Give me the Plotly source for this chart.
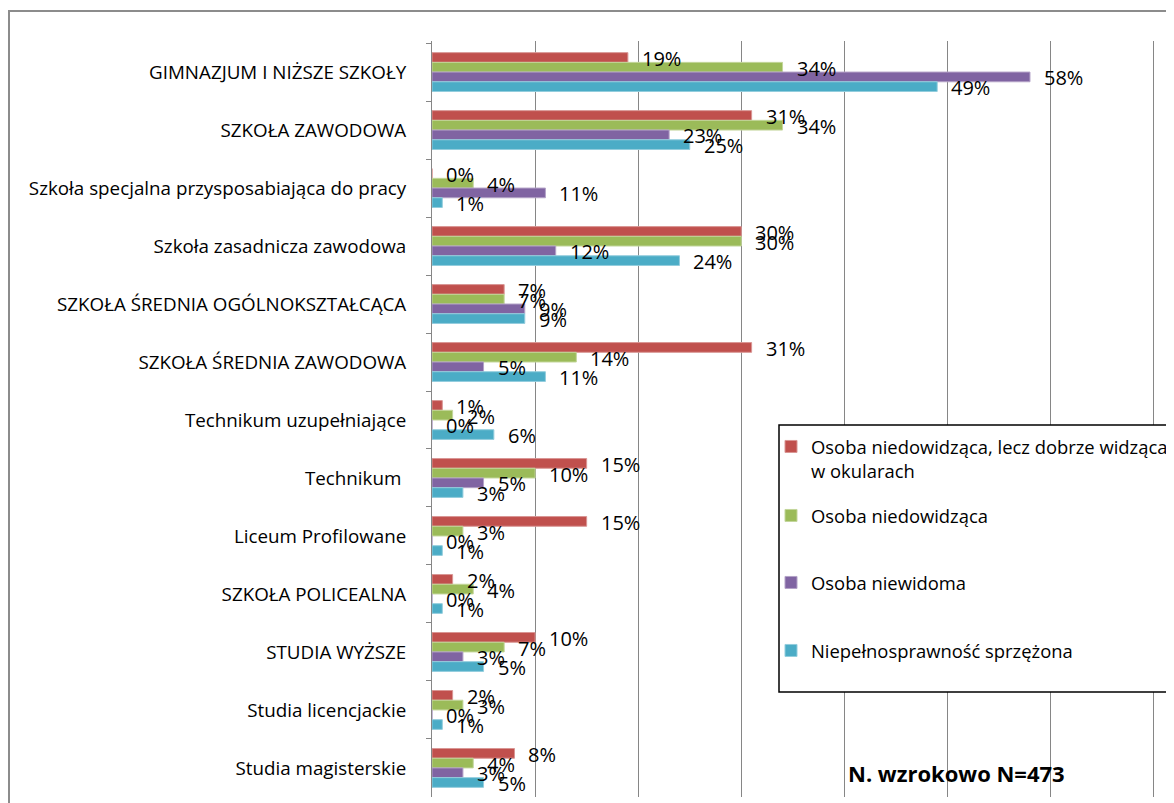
import plotly.graph_objects as go

categories = [
    "GIMNAZJUM I NIŻSZE SZKOŁY",
    "SZKOŁA ZAWODOWA",
    "Szkoła specjalna przysposabiająca do pracy",
    "Szkoła zasadnicza zawodowa",
    "SZKOŁA ŚREDNIA OGÓLNOKSZTAŁCĄCA",
    "SZKOŁA ŚREDNIA ZAWODOWA",
    "Technikum uzupełniające",
    "Technikum ",
    "Liceum Profilowane",
    "SZKOŁA POLICEALNA",
    "STUDIA WYŻSZE",
    "Studia licencjackie",
    "Studia magisterskie",
]

series_names = [
    "Osoba niedowidząca, lecz dobrze widząca<br>w okularach",
    "Osoba niedowidząca",
    "Osoba niewidoma",
    "Niepełnosprawność sprzężona",
]

s_niedowidzaca_okulary = [19, 31, 0, 30, 7, 31, 1, 15, 15, 2, 10, 2, 8]
s_niedowidzaca = [34, 34, 4, 30, 7, 14, 2, 10, 3, 4, 7, 3, 4]
s_niewidoma = [58, 23, 11, 12, 9, 5, 0, 5, 0, 0, 3, 0, 3]
s_sprzezona = [49, 25, 1, 24, 9, 11, 6, 3, 1, 1, 5, 1, 5]

series_values = [s_niedowidzaca_okulary, s_niedowidzaca, s_niewidoma, s_sprzezona]
colors = ["#C0504D", "#9BBB59", "#8064A2", "#4BACC6"]
edge_colors = ["#D99694", "#C3D69B", "#B3A2C7", "#93CDDD"]

# page has an 8px body margin; figure coordinates = screen - 8
W, H = 1166, 795
L, T = 424, 33
plot_w = 742
plot_h = 756
R = W - L - plot_w
B = H - T - plot_h
xmax = plot_w / 103.1 * 10

FONT = "'Open Sans', Lato, sans-serif"
bargap = 0.33


def px_x(x):
    return (x - L) / plot_w


def px_y(y):
    return (T + plot_h - y) / plot_h


legend_ids = ["legend", "legend2", "legend3", "legend4"]

fig = go.Figure()
for i, (name, vals) in enumerate(zip(series_names, series_values)):
    fig.add_trace(go.Bar(
        y=categories, x=vals, orientation="h", name=name,
        marker=dict(color=colors[i], line=dict(color=edge_colors[i], width=1)),
        legend=legend_ids[i],
        hoverinfo="skip",
    ))

annotations = []
n = len(series_values)
bw = (1 - bargap) / n
for j, vals in enumerate(series_values):
    off = -(1 - bargap) / 2 + (j + 0.5) * bw
    for i, v in enumerate(vals):
        annotations.append(dict(
            x=v, y=i + off, xref="x", yref="y", text=f"{v}%",
            showarrow=False, xanchor="left", yanchor="middle",
            xshift=12, yshift=-1,
            font=dict(family=FONT, size=20, color="black"),
        ))

annotations.append(dict(
    x=px_x(838), y=px_y(765), xref="paper", yref="paper",
    text="<b>N. wzrokowo N=473</b>", showarrow=False, xanchor="left", yanchor="middle",
    font=dict(family=FONT, size=22, color="black"),
))

shapes = [
    dict(type="rect", xref="paper", yref="paper",
         x0=px_x(1), x1=1.05, y0=-0.05, y1=px_y(3),
         line=dict(color="#8C8C8C", width=2), fillcolor="rgba(0,0,0,0)", layer="above"),
    dict(type="rect", xref="paper", yref="paper",
         x0=px_x(771), x1=1.05, y0=px_y(684), y1=px_y(417),
         line=dict(color="black", width=1.5), fillcolor="white", layer="above"),
]

legend_centers = [439, 508, 575, 643]
legend_common = dict(
    xanchor="left", yanchor="top", bgcolor="rgba(0,0,0,0)", borderwidth=0,
    font=dict(family=FONT, size=18.4, color="black"), valign="top",
)
legends = {}
for k, lid in enumerate(legend_ids):
    legends[lid] = dict(x=px_x(763), y=px_y(legend_centers[k] - 19), **legend_common)

fig.update_layout(
    width=W, height=H,
    margin=dict(l=L, r=R, t=T, b=B, pad=0, autoexpand=False),
    paper_bgcolor="white", plot_bgcolor="white",
    barmode="group", bargap=bargap, bargroupgap=0,
    font=dict(family=FONT, size=16, color="black"),
    showlegend=True,
    annotations=annotations,
    shapes=shapes,
    **legends,
)
fig.update_xaxes(
    range=[0, xmax], dtick=10, showgrid=True, gridcolor="#868686", gridwidth=1,
    showticklabels=False, zeroline=False, showline=False, fixedrange=True,
)
fig.update_yaxes(
    autorange="reversed", type="category",
    showline=True, linecolor="#868686", linewidth=1,
    ticks="outside", ticklen=5, tickcolor="#868686", tickson="boundaries",
    ticklabelstandoff=21, showgrid=False, automargin=False,
    tickfont=dict(family=FONT, size=18.8, color="black"),
)

fig.write_html("out.html")
